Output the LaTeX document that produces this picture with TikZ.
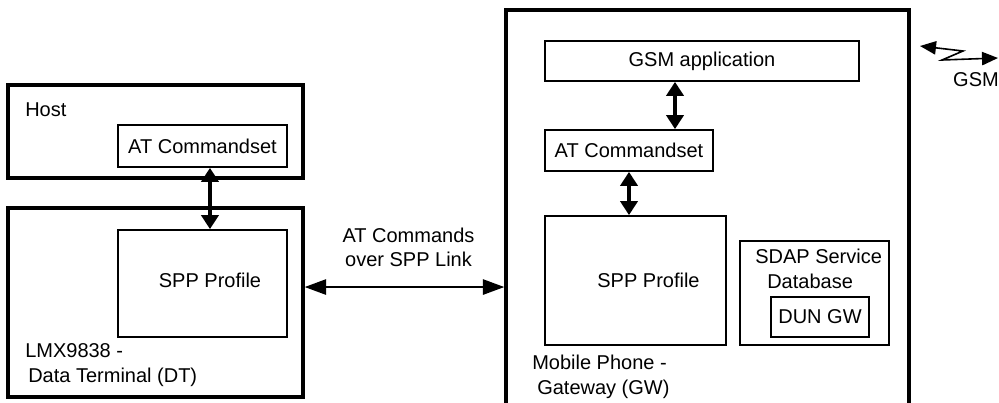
\documentclass[tikz,border=0pt]{standalone}
\usepackage{fontspec}
\setmainfont{Liberation Sans}
\usetikzlibrary{arrows.meta, positioning}

\begin{document}
\begin{tikzpicture}[
    x=0.75pt, y=-0.75pt,
    font=\fontsize{15}{18.5}\selectfont,
    outerbox/.style={
        draw=black,
        line width=2.6pt,
        inner sep=0pt
    },
    innerbox/.style={
        draw=black,
        line width=1.4pt,
        inner sep=0pt,
        align=center
    },
    txt/.style={
        inner sep=0pt,
        align=left
    },
    stacklink/.style={
        {Triangle[length=10.5pt,width=13pt]}-{Triangle[length=10.5pt,width=13pt]},
        line width=2.3pt
    },
    spplink/.style={
        {Triangle[length=16pt,width=11.5pt]}-{Triangle[length=16pt,width=11.5pt]},
        line width=1.2pt
    },
    radiolink/.style={
        {Triangle[length=12pt,width=10pt]}-{Triangle[length=12pt,width=10pt]},
        line width=1.2pt
    }
]

    % Page
    \useasboundingbox[fill=white] (0,0) rectangle (999,403);

    % Data Terminal side (left)
    \node[outerbox, minimum width=221.25pt, minimum height=69.75pt] (host) at (155.5,131.5) {};
    \node[txt, anchor=west] (hostlbl) at (25,109.5) {Host};
    \node[innerbox, minimum width=126.75pt, minimum height=31.5pt] (hostat) at (202.5,146) {AT Commandset};

    \node[outerbox, minimum width=221.25pt, minimum height=141.75pt] (dt) at (155.5,302.5) {};
    \node[innerbox, minimum width=126.75pt, minimum height=80.25pt] (dtspp) at (202.5,283.5) {};
    \node[txt] (dtspptxt) at (210,280) {SPP Profile};
    \node[txt, anchor=west] (dtlbl) at (25,365) {LMX9838 -\\\hspace*{2.25pt}Data Terminal (DT)};

    % Mobile Phone side (right)
    \node[outerbox, minimum width=302.25pt, minimum height=315pt] (phone) at (707.5,220) {};
    \node[innerbox, minimum width=235.5pt, minimum height=30pt] (gsmapp) at (702,61) {GSM application};
    \node[innerbox, minimum width=126pt, minimum height=30.75pt] (phoneat) at (629,150.5) {AT Commandset};
    \node[innerbox, minimum width=135.75pt, minimum height=96.75pt] (phonespp) at (635.5,280.5) {};
    \node[txt] (phonespptxt) at (648.5,280) {SPP Profile};

    \node[innerbox, minimum width=111.75pt, minimum height=78pt] (sdap) at (814.5,293) {};
    \node[txt, anchor=west] (sdaplbl) at (755,269) {SDAP Service\\\hspace*{9pt}Database};
    \node[innerbox, minimum width=73.5pt, minimum height=30pt] (dungw) at (820,317) {DUN GW};
    \node[txt, anchor=west] (phonelbl) at (532,376.5) {Mobile Phone -\\\hspace*{3.75pt}Gateway (GW)};

    % GSM radio symbol
    \coordinate (radioL) at (920,46);
    \coordinate (radioA) at (963,51);
    \coordinate (radioB) at (942,60);
    \coordinate (radioR) at (998,58);
    \node[txt] (gsmlbl) at (976,80) {GSM};

    % Connections
    \draw[stacklink] ([xshift=5.6pt]hostat.south) -- ([xshift=5.6pt]dtspp.north);
    \draw[stacklink] ([xshift=-20.25pt]gsmapp.south) -- ([xshift=-20.25pt]gsmapp.south |- phoneat.north);
    \draw[stacklink] (phoneat.south) -- (phoneat.south |- phonespp.north);

    \draw[spplink] ([yshift=11.6pt]dt.east) -- ([yshift=11.6pt]dt.east -| phone.west);
    \node[txt, align=center] (linklbl) at (408.5,247.5) {AT Commands\\over SPP Link};

    \draw[radiolink] (radioL) -- (radioA) -- (radioB) -- (radioR);

\end{tikzpicture}
\end{document}
